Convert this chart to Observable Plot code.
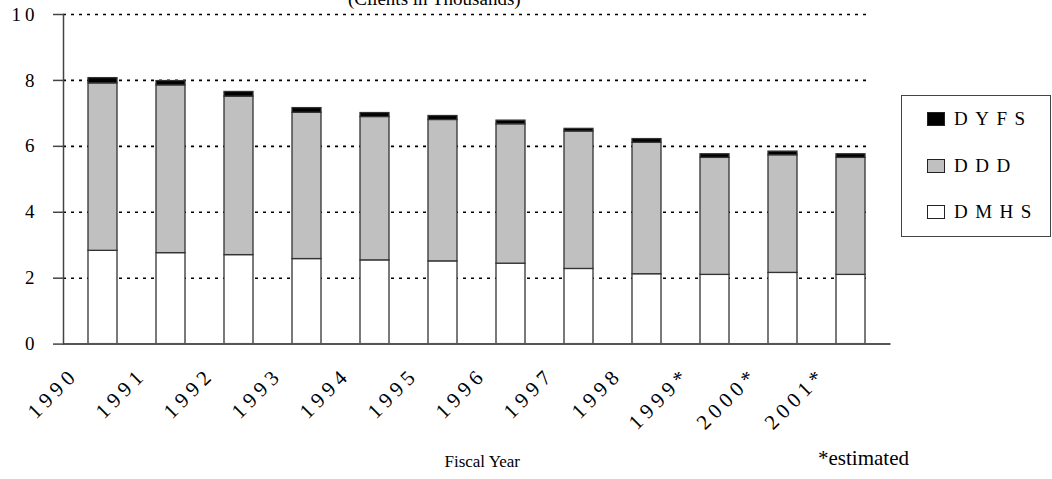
<!DOCTYPE html>
<html>
<head>
<meta charset="utf-8">
<script src="https://cdn.jsdelivr.net/npm/d3@7"></script>
<script src="https://cdn.jsdelivr.net/npm/@observablehq/plot@0.6"></script>
<style>
  body { margin: 0; background: white; }
  #wrap { position: relative; width: 1052px; height: 479px; overflow: hidden; font-family: "Liberation Serif", "Times New Roman", serif; }
  #wrap svg { position: absolute; left: 0; top: 0; }
  #legend { position: absolute; left: 901px; top: 95px; width: 148px; height: 140px; border: 1.5px solid #444; background: white; }
  .item { position: absolute; left: 25px; height: 20px; display: flex; align-items: center; font-size: 19px; letter-spacing: 7.5px; color: black; }
  .sw { width: 18px; height: 14px; border: 1px solid #222; margin-right: 9px; box-sizing: border-box; }
</style>
</head>
<body>
<div id="wrap"></div>
<script>
const years = ["1990","1991","1992","1993","1994","1995","1996","1997","1998","1999*","2000*","2001*"];
const dmhs = [2.83,2.76,2.70,2.58,2.54,2.51,2.44,2.28,2.12,2.10,2.16,2.10];
const ddd  = [5.08,5.09,4.81,4.44,4.35,4.29,4.23,4.17,3.99,3.55,3.57,3.55];
const dyfs = [0.16,0.13,0.14,0.14,0.12,0.12,0.11,0.08,0.11,0.11,0.11,0.11];
const seriesNames = ["DMHS","DDD","DYFS"];
const seriesColors = ["white","#c0c0c0","black"];
const yTicks = [0,2,4,6,8,10];
const legendOrder = ["DYFS","DDD","DMHS"];
const title = "(Clients in Thousands)";
const xTitle = "Fiscal Year";
const note = "*estimated";

const seriesValues = {DMHS: dmhs, DDD: ddd, DYFS: dyfs};
const rows = [];
years.forEach((yr, i) => {
  seriesNames.forEach(s => rows.push({year: yr, series: s, value: seriesValues[s][i]}));
});

const chart = Plot.plot({
  width: 1052,
  height: 479,
  marginLeft: 63,
  marginRight: 161.5,
  marginTop: 14,
  marginBottom: 135.4,
  style: {fontFamily: "'Liberation Serif', 'Times New Roman', serif", background: "white", color: "black"},
  x: {domain: years, paddingInner: 0.58, paddingOuter: 0.29, axis: null},
  y: {domain: [0, 10], axis: null},
  color: {domain: seriesNames, range: seriesColors},
  marks: [
    Plot.ruleY(yTicks.filter(d => d > 0), {stroke: "black", strokeDasharray: "3,5", strokeWidth: 1.6, insetRight: 22}),
    Plot.barY(rows, {x: "year", y: "value", fill: "series", order: seriesNames, stroke: "#333", strokeWidth: 1.3}),
    Plot.ruleY([0], {stroke: "#555", strokeWidth: 2}),
    Plot.frame({anchor: "left", stroke: "#444", strokeWidth: 1.5}),
    Plot.axisY({ticks: yTicks, label: null, tickSize: 10, tickPadding: 15, fontSize: 19, stroke: "#444", strokeWidth: 1.5, tickFormat: d => String(d)}),
    Plot.text(years, {x: d => d, y: years.map(() => 0), text: d => d, rotate: -45, textAnchor: "end", fontSize: 21, dx: -28, dy: 27}),
    Plot.text([title], {frameAnchor: "top", text: d => d, lineAnchor: "bottom", dy: -10, dx: -43, fontSize: 19}),
    Plot.text([xTitle], {frameAnchor: "bottom", text: d => d, lineAnchor: "bottom", dy: 123, dx: 5, fontSize: 17}),
    Plot.text([note], {frameAnchor: "bottom-right", text: d => d, textAnchor: "start", lineAnchor: "bottom", dy: 121, dx: -73, fontSize: 21})
  ]
});
document.getElementById("wrap").appendChild(chart);

// letter spacing like the original's spaced digits
d3.select(chart).selectAll("text").each(function() {
  const t = this.getAttribute("transform") || "";
  if (t.includes("rotate")) this.style.letterSpacing = "5px";
});
d3.select(chart).selectAll('g[aria-label="y-axis tick label"] text').style("letter-spacing", "4px");

const legend = document.createElement("div");
legend.id = "legend";
const rowTops = [13, 60, 106];
legendOrder.forEach((name, k) => {
  const item = document.createElement("div");
  item.className = "item";
  item.style.top = rowTops[k] + "px";
  const sw = document.createElement("div");
  sw.className = "sw";
  sw.style.background = seriesColors[seriesNames.indexOf(name)];
  const t = document.createElement("span");
  t.textContent = name;
  item.appendChild(sw);
  item.appendChild(t);
  legend.appendChild(item);
});
document.getElementById("wrap").appendChild(legend);
</script>
</body>
</html>
